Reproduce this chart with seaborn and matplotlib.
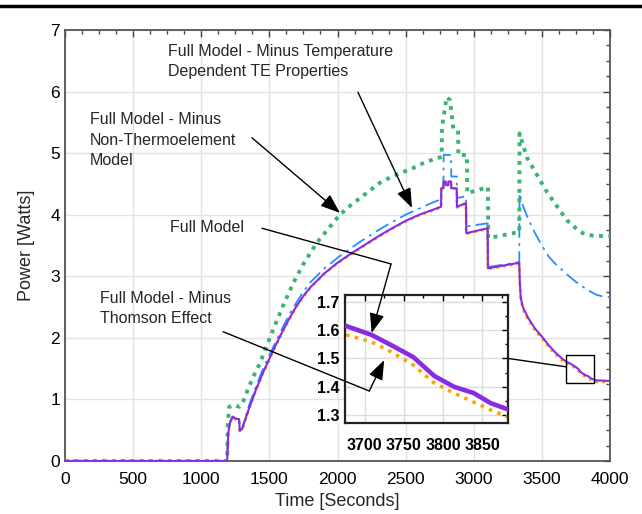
import numpy as np
import pandas as pd
import matplotlib
matplotlib.use("Agg")
import matplotlib.pyplot as plt
import seaborn as sns
from matplotlib.lines import Line2D
from matplotlib.patches import Rectangle, ConnectionPatch

# データ
full_t = [0, 1190, 1198, 1210, 1230, 1250, 1278, 1282, 1300, 1350, 1400, 1450, 1500, 1550,
          1600, 1650, 1700, 1750, 1800, 1900, 2000, 2100, 2200, 2300, 2400, 2500, 2600, 2700,
          2760, 2762, 2777, 2779, 2794, 2796, 2813, 2815, 2833, 2835, 2875, 2877, 2943, 2945,
          3102, 3104, 3334, 3338, 3345, 3360, 3400, 3450, 3508, 3550, 3600, 3650, 3677, 3709,
          3734, 3762, 3789, 3814, 3839, 3861, 3883, 3900, 4000]
full_p = [0, 0, 0.45, 0.62, 0.72, 0.69, 0.68, 0.50, 0.52, 0.85, 1.15, 1.42, 1.66, 1.90,
          2.12, 2.33, 2.52, 2.68, 2.82, 3.04, 3.22, 3.37, 3.51, 3.65, 3.78, 3.90, 4.00, 4.08,
          4.13, 4.43, 4.43, 4.54, 4.54, 4.48, 4.48, 4.54, 4.54, 4.43, 4.43, 4.13, 4.19, 3.70,
          3.78, 3.13, 3.22, 2.90, 2.65, 2.50, 2.32, 2.15, 2.00, 1.88, 1.76, 1.66, 1.614, 1.583,
          1.547, 1.505, 1.438, 1.40, 1.378, 1.342, 1.32, 1.31, 1.30]

thomson_t = [0, 1190, 1198, 1210, 1230, 1250, 1278, 1282, 1300, 1350, 1400, 1450, 1500, 1550,
             1600, 1650, 1700, 1750, 1800, 1900, 2000, 2100, 2200, 2300, 2400, 2500, 2600, 2700,
             2760, 2762, 2777, 2779, 2794, 2796, 2813, 2815, 2833, 2835, 2875, 2877, 2943, 2945,
             3102, 3104, 3334, 3338, 3345, 3360, 3400, 3450, 3508, 3550, 3600, 3650, 3677, 3709,
             3734, 3762, 3789, 3814, 3839, 3861, 3883, 3900, 4000]
thomson_p = [0, 0, 0.45, 0.62, 0.71, 0.68, 0.67, 0.50, 0.51, 0.84, 1.14, 1.41, 1.65, 1.89,
             2.11, 2.32, 2.51, 2.67, 2.81, 3.03, 3.21, 3.36, 3.50, 3.64, 3.77, 3.89, 3.99, 4.07,
             4.12, 4.42, 4.42, 4.53, 4.53, 4.47, 4.47, 4.53, 4.53, 4.42, 4.42, 4.12, 4.18, 3.69,
             3.77, 3.12, 3.20, 2.88, 2.63, 2.47, 2.29, 2.12, 1.97, 1.85, 1.73, 1.63, 1.583, 1.558,
             1.523, 1.477, 1.413, 1.378, 1.346, 1.318, 1.293, 1.285, 1.28]

tdep_t = [0, 1190, 1198, 1210, 1230, 1250, 1278, 1282, 1300, 1350, 1400, 1450, 1500, 1550,
          1600, 1650, 1700, 1750, 1800, 1900, 2000, 2100, 2200, 2300, 2400, 2500, 2600, 2700,
          2760, 2762, 2777, 2779, 2833, 2835, 2875, 2877, 2943, 2945, 3102, 3104, 3334, 3336,
          3360, 3400, 3450, 3500, 3550, 3600, 3650, 3700, 3750, 3800, 3850, 3900, 3950, 4000]
tdep_p = [0, 0, 0.45, 0.62, 0.72, 0.69, 0.68, 0.48, 0.53, 0.90, 1.20, 1.48, 1.72, 1.95,
          2.18, 2.39, 2.58, 2.75, 2.90, 3.12, 3.30, 3.46, 3.61, 3.75, 3.88, 4.00, 4.10, 4.20,
          4.25, 4.43, 4.43, 4.97, 4.97, 4.62, 4.62, 4.27, 4.30, 3.81, 3.86, 3.15, 3.23, 4.35,
          4.15, 3.93, 3.70, 3.50, 3.32, 3.20, 3.10, 3.00, 2.91, 2.83, 2.76, 2.70, 2.67, 2.66]

nontherm_t = [0, 1190, 1195, 1205, 1240, 1280, 1300, 1340, 1380, 1431, 1480, 1527, 1600, 1675,
              1750, 1850, 1950, 2018, 2100, 2200, 2312, 2400, 2557, 2650, 2765, 2767, 2790,
              2800, 2826, 2850, 2885, 2887, 2950, 2952, 3104, 3106, 3334, 3336, 3390, 3450,
              3537, 3600, 3684, 3750, 3800, 3875, 4000]
nontherm_p = [0, 0, 0.60, 0.88, 0.91, 0.88, 0.92, 1.15, 1.36, 1.59, 1.87, 2.13, 2.52, 2.89,
              3.20, 3.55, 3.82, 4.00, 4.16, 4.33, 4.52, 4.62, 4.76, 4.86, 4.94, 5.43, 5.75,
              5.91, 5.86, 5.40, 5.37, 4.97, 4.97, 4.35, 4.45, 3.62, 3.72, 5.32, 4.93, 4.70,
              4.37, 4.17, 3.91, 3.78, 3.70, 3.66, 3.65]

x_ticks = [0, 500, 1000, 1500, 2000, 2500, 3000, 3500, 4000]
inset_xticks = [3700, 3750, 3800, 3850]
inset_yticks = [1.3, 1.4, 1.5, 1.6, 1.7]

GREEN = "#3cb371"
BLUE = "#1e90ff"
PURPLE = "#8a2be2"
ORANGE = "#ffa500"

sns.set_theme(style="whitegrid")
plt.rcParams['font.family'] = ['Liberation Sans', 'DejaVu Sans']

fig = plt.figure(figsize=(6.42, 5.14), dpi=100)
ax = fig.add_axes([65/642, 1 - 461/514, 545/642, 431/514])


def draw_lines(a, big=False):
    k = 2.2 if big else 1.0
    sns.lineplot(x=full_t, y=full_p, ax=a, estimator=None, sort=False,
                 color=PURPLE, lw=1.5 * k, zorder=3)
    sns.lineplot(x=thomson_t, y=thomson_p, ax=a, estimator=None, sort=False,
                 color=ORANGE, lw=(2.6 if big else 2.0), ls=(0, (1, 1.5)), zorder=2.5)
    sns.lineplot(x=tdep_t, y=tdep_p, ax=a, estimator=None, sort=False,
                 color=BLUE, lw=1.3 * k, ls=(0, (8, 3, 1.5, 3)), zorder=2.8)
    sns.lineplot(x=nontherm_t, y=nontherm_p, ax=a, estimator=None, sort=False,
                 color=GREEN, lw=2.8 * k, ls=(0, (1, 1.4)), zorder=2.9)


draw_lines(ax)
ax.set_xlim(0, 4000)
ax.set_ylim(0, 7)
ax.set_xticks(x_ticks)
ax.set_xticks(np.arange(0, 4001, 125), minor=True)
ax.set_yticks(range(0, 8))
ax.set_yticks(np.arange(0, 7.01, 0.25), minor=True)
ax.grid(True, which='major', color='#e3e3e3', lw=1.0)
ax.grid(False, which='minor')
ax.tick_params(which='both', direction='in', top=True, right=True, colors='#444444',
               labelcolor='black', labelsize=12.5)
ax.tick_params(which='major', length=5, width=1)
ax.tick_params(axis='x', which='major', pad=8)
ax.tick_params(which='minor', length=3, width=1)
for s in ax.spines.values():
    s.set_color('#555555')
    s.set_linewidth(1.3)
ax.set_xlabel("Time [Seconds]", fontsize=13, labelpad=4)
ax.set_ylabel("Power [Watts]", fontsize=13, labelpad=11)

# 拡大図
axins = fig.add_axes([345/642, 1 - 423/514, 163/642, 128/514])
draw_lines(axins, big=True)
axins.set_xlim(3677, 3883)
axins.set_ylim(1.272, 1.724)
axins.set_xticks(inset_xticks)
axins.set_xticks(np.arange(3675, 3884, 25), minor=True)
axins.set_yticks(inset_yticks)
axins.set_yticks(np.arange(1.3, 1.72, 0.05), minor=True)
axins.grid(True, which='major', color='#dcdcdc', lw=1.0)
axins.grid(False, which='minor')
axins.tick_params(which='both', direction='in', top=True, right=True, colors='black',
                  labelsize=11.5)
axins.tick_params(which='major', length=4, width=1, pad=11)
axins.tick_params(axis='y', which='major', pad=4)
axins.tick_params(which='minor', length=2.5, width=1)
for lab in axins.get_xticklabels() + axins.get_yticklabels():
    lab.set_fontweight('bold')
for s in axins.spines.values():
    s.set_color('#222222')
    s.set_linewidth(1.6)
axins.set_facecolor('white')

ax.add_patch(Rectangle((3677, 1.272), 3883 - 3677, 1.724 - 1.272, fill=False,
                       ec='black', lw=1.0, zorder=5))
con = ConnectionPatch(xyA=(3883, 1.50), coordsA=axins.transData,
                      xyB=(3677, 1.53), coordsB=ax.transData, color='black', lw=1.0)
fig.add_artist(con)

# 注釈
fs = 11.5
ax.text(756, 6.49, "Full Model - Minus Temperature\nDependent TE Properties",
        fontsize=fs, ha='left', va='center', linespacing=1.45, zorder=6)
ax.text(183, 5.21, "Full Model - Minus\nNon-Thermoelement\nModel",
        fontsize=fs, ha='left', va='center', linespacing=1.45, zorder=6)
ax.text(771, 3.80, "Full Model", fontsize=fs, ha='left', va='center', zorder=6)
ax.text(257, 2.48, "Full Model - Minus\nThomson Effect",
        fontsize=fs, ha='left', va='center', linespacing=1.45, zorder=6)

arrow = dict(arrowstyle='-|>,head_length=0.8,head_width=0.3', color='black', lw=1.0,
             mutation_scale=15, shrinkA=0, shrinkB=0)
plain = dict(arrowstyle='-', color='black', lw=1.0, shrinkA=0, shrinkB=0)

ax.annotate("", xy=(2547, 4.11), xytext=(2150, 5.99), arrowprops=arrow, zorder=6)
ax.annotate("", xy=(2018, 4.03), xytext=(1372, 5.25), arrowprops=arrow, zorder=6)
ax.annotate("", xy=(2393, 3.20), xytext=(1446, 3.78), arrowprops=plain, zorder=6)
axins.annotate("", xy=(3709, 1.59), xycoords=axins.transData,
               xytext=(2393, 3.20), textcoords=ax.transData,
               arrowprops=arrow, annotation_clip=False)
axins.annotate("", xy=(3706, 1.385), xycoords=axins.transData,
               xytext=(1160, 2.10), textcoords=ax.transData,
               arrowprops=plain, annotation_clip=False)
axins.annotate("", xy=(3725, 1.494), xycoords=axins.transData,
               xytext=(3706, 1.385), textcoords=axins.transData,
               arrowprops=arrow, annotation_clip=False)

# 上部の罫線
fig.add_artist(Line2D([0, 1], [1 - 6/514, 1 - 6/514], transform=fig.transFigure,
                      color='black', lw=2.5))

fig.savefig("out.png", dpi=100, facecolor='white')
